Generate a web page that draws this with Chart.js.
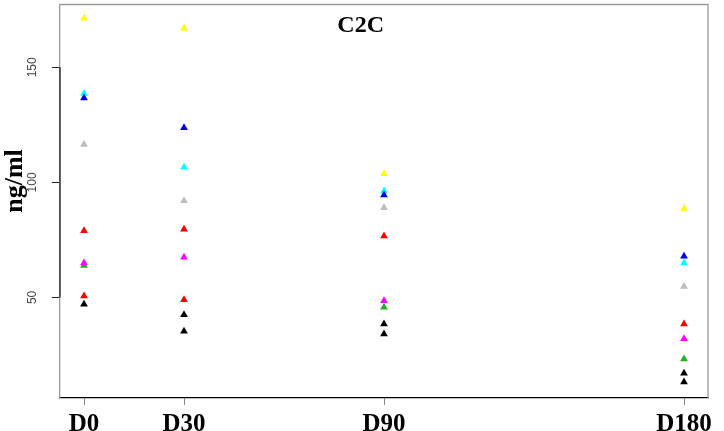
<!DOCTYPE html>
<html>
<head>
<meta charset="utf-8">
<script src="https://cdn.jsdelivr.net/npm/chart.js"></script>
<style>
  html, body { margin: 0; padding: 0; background: #fff; }
</style>
</head>
<body>
<canvas id="chart" width="724" height="431"></canvas>
<script>
// días de muestreo y etiquetas del eje x
const days = [0, 30, 90, 180];
const dayLabels = ['D0', 'D30', 'D90', 'D180'];
const yTicks = [50, 100, 150];

// C2C en ng/ml por sujeto, un valor por día (null = no visible en la figura)
const yellow  = [171.3, 167.0, 103.8, 88.7];
const cyan    = [138.6, 106.6, 96.3, 65.0];
const blue    = [136.7, 123.7, 94.5, 67.9];
const gray    = [116.5, 92.0, 89.0, 54.8];
const redA    = [79.0, 79.6, 76.7, 38.5];
const redB    = [50.6, 49.0, null, null];
const magenta = [65.0, 67.5, 48.6, 32.0];
const green   = [63.9, null, 45.7, 23.3];
const blackA  = [47.0, 42.5, 38.5, 17.1];
const blackB  = [null, 35.3, 34.1, 13.2];

// orden: el primero se dibuja encima
const series = [
  { name: 'blue', values: blue, color: '#0000EE' },
  { name: 'cyan', values: cyan, color: '#00FFFF' },
  { name: 'yellow', values: yellow, color: '#FFFF00' },
  { name: 'gray', values: gray, color: '#BEBEBE' },
  { name: 'redA', values: redA, color: '#FF0000' },
  { name: 'magenta', values: magenta, color: '#FF00FF' },
  { name: 'redB', values: redB, color: '#FF0000' },
  { name: 'green', values: green, color: '#22B022' },
  { name: 'blackA', values: blackA, color: '#000000' },
  { name: 'blackB', values: blackB, color: '#000000' }
];

const datasets = series.map(s => ({
  label: s.name,
  data: days.map((d, i) => ({ x: d, y: s.values[i] })).filter(p => p.y !== null),
  backgroundColor: s.color,
  borderWidth: 0,
  pointStyle: 'triangle',
  pointRadius: 4.5,
  showLine: false
}));

const serif = '"Liberation Serif", "Times New Roman", serif';

// caja gris, tramo negro del eje y, etiquetas del eje y y títulos
const decor = {
  id: 'decor',
  beforeDatasetsDraw(chart) {
    const { ctx, chartArea: a, scales } = chart;
    ctx.save();
    ctx.strokeStyle = '#9a9a9a';
    ctx.lineWidth = 1.3;
    ctx.beginPath();
    ctx.moveTo(a.left, a.top);
    ctx.lineTo(a.right, a.top);
    ctx.lineTo(a.right, a.bottom);
    ctx.stroke();
    const y = scales.y;
    ctx.strokeStyle = '#222';
    ctx.beginPath();
    ctx.moveTo(a.left, y.getPixelForValue(yTicks[yTicks.length - 1]));
    ctx.lineTo(a.left, y.getPixelForValue(yTicks[0]));
    ctx.stroke();
    ctx.restore();
  },
  afterDraw(chart) {
    const { ctx, chartArea: a, scales } = chart;
    ctx.save();
    ctx.textAlign = 'center';
    ctx.textBaseline = 'middle';
    ctx.fillStyle = '#444';
    ctx.font = '12px "Liberation Sans", Arial, sans-serif';
    scales.y.ticks.forEach(t => {
      ctx.save();
      ctx.translate(33, scales.y.getPixelForValue(t.value));
      ctx.rotate(-Math.PI / 2);
      ctx.fillText(String(t.value), 0, 0);
      ctx.restore();
    });
    ctx.fillStyle = '#000';
    ctx.font = 'bold 26px ' + serif;
    ctx.save();
    ctx.translate(15, 181);
    ctx.rotate(-Math.PI / 2);
    ctx.fillText('ng/ml', 0, 0);
    ctx.restore();
    ctx.font = 'bold 24px ' + serif;
    ctx.fillText('C2C', a.left + (a.right - a.left) * 0.464, 26);
    ctx.restore();
  }
};

new Chart(document.getElementById('chart').getContext('2d'), {
  type: 'scatter',
  data: { datasets },
  options: {
    responsive: false,
    animation: false,
    layout: { padding: { top: 3, right: 16, left: 0, bottom: 0 } },
    plugins: { legend: { display: false }, tooltip: { enabled: false } },
    scales: {
      x: {
        type: 'linear',
        min: -7.2,
        max: 187.2,
        afterBuildTicks: s => { s.ticks = days.map(v => ({ value: v })); },
        afterFit: s => { s.height = 33; },
        ticks: {
          autoSkip: false,
          maxRotation: 0,
          padding: 7,
          color: '#000',
          font: { family: serif, weight: 'bold', size: 25, lineHeight: 1 },
          callback: v => dayLabels[days.indexOf(v)]
        },
        grid: { drawOnChartArea: false, drawTicks: true, tickLength: 7, tickColor: '#888', tickWidth: 1 },
        border: { color: '#000', width: 1.3 }
      },
      y: {
        type: 'linear',
        min: 6.3,
        max: 177.3,
        afterBuildTicks: s => { s.ticks = yTicks.map(v => ({ value: v })); },
        afterFit: s => { s.width = 60; },
        ticks: { display: false },
        grid: { drawOnChartArea: false, drawTicks: true, tickLength: 8, tickColor: '#222', tickWidth: 1 },
        border: { color: '#9a9a9a', width: 1.3 }
      }
    }
  },
  plugins: [decor]
});
</script>
</body>
</html>
